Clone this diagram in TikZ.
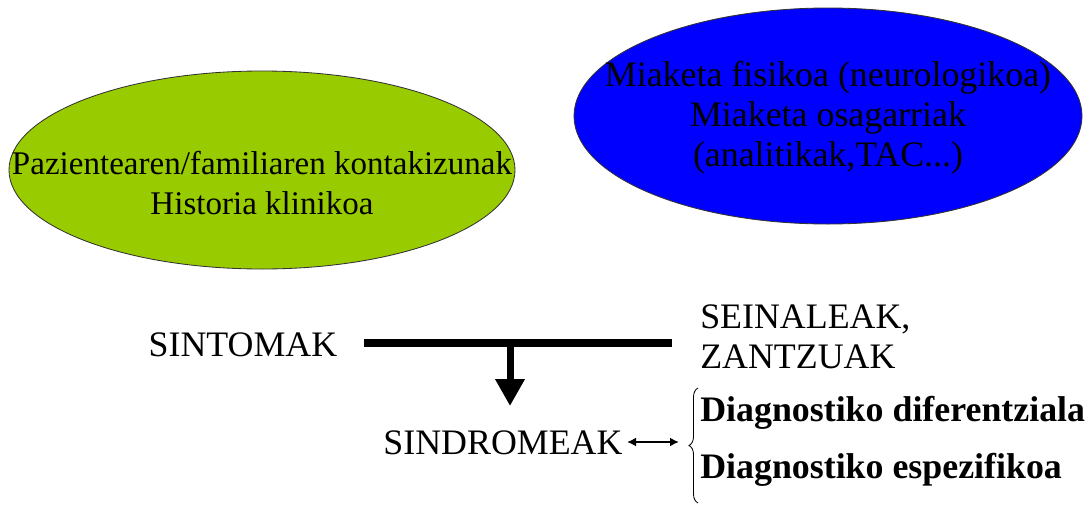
\documentclass[tikz,border=0pt]{standalone}
\usepackage{fontspec}
\setmainfont{Liberation Serif}
\usepackage{tikz}
\usetikzlibrary{positioning}
\usetikzlibrary{arrows.meta}
\usetikzlibrary{shapes,calc,decorations.pathreplacing}
\definecolor{pazgreen}{HTML}{99CC00}
\definecolor{miablue}{HTML}{0000FF}
\tikzset{oval/.style={draw=black!80,line width=0.6pt},
	big text/.style={font=\fontsize{25.5}{28.5}\selectfont,inner sep=0pt},
	bold text/.style={font=\fontsize{25.5}{28.5}\selectfont\bfseries,inner sep=0pt,anchor=west},}

\begin{document}
\begin{tikzpicture}[x=0.025cm, y=-0.025cm]
	\useasboundingbox (0,0) rectangle (1089,507);
	\coordinate (pazc) at (262,170);
	\coordinate (miac) at (828,116);
	\draw[oval, fill=pazgreen] (pazc) ellipse [x radius=253, y radius=99];
	\draw[oval, fill=miablue] (miac) ellipse [x radius=254, y radius=108];
	\node[big text, font=\fontsize{23.5}{29}\selectfont, align=center] (paz) at (262,183) {Pazientearen/familiaren kontakizunak\\Historia klinikoa};
	\node[big text, align=center] (mia) at (828,118) {Miaketa fisikoa (neurologikoa)\\Miaketa osagarriak\\(analitikak,TAC...)};

	\node[big text] (sint) at (243,345) {SINTOMAK};
	\node[big text, anchor=west, align=left] (sein) at (700,337) {SEINALEAK,\\ZANTZUAK};
	\node[big text] (sind) at (503,443) {SINDROMEAK};
	\node[bold text] (dif) at (700,413) {Diagnostiko diferentziala};
	\node[bold text] (esp) at (700,470) {Diagnostiko espezifikoa};

	\coordinate (barL) at (364,343);
	\coordinate (barR) at (672,343);
	\coordinate (barM) at (510,343);
	\coordinate (tip) at (510,406);
	\coordinate (dblL) at (627,442);
	\coordinate (dblR) at (679,442);
	\coordinate (brT) at (698,388);
	\coordinate (brB) at (698,503);

	\draw[line width=8*0.025cm] (barL) -- (barR);
	\draw[line width=7*0.025cm, -{Triangle[length=27*0.025cm, width=28*0.025cm]}] (barM) -- (tip);
	\draw[line width=2.5*0.025cm, {Latex[length=9*0.025cm, width=9*0.025cm]}-{Latex[length=9*0.025cm, width=9*0.025cm]}] (dblL) -- (dblR);
	\draw[line width=0.6pt, decorate, decoration={brace, amplitude=9*0.025cm}] (brB) -- (brT);
\end{tikzpicture}
\end{document}
